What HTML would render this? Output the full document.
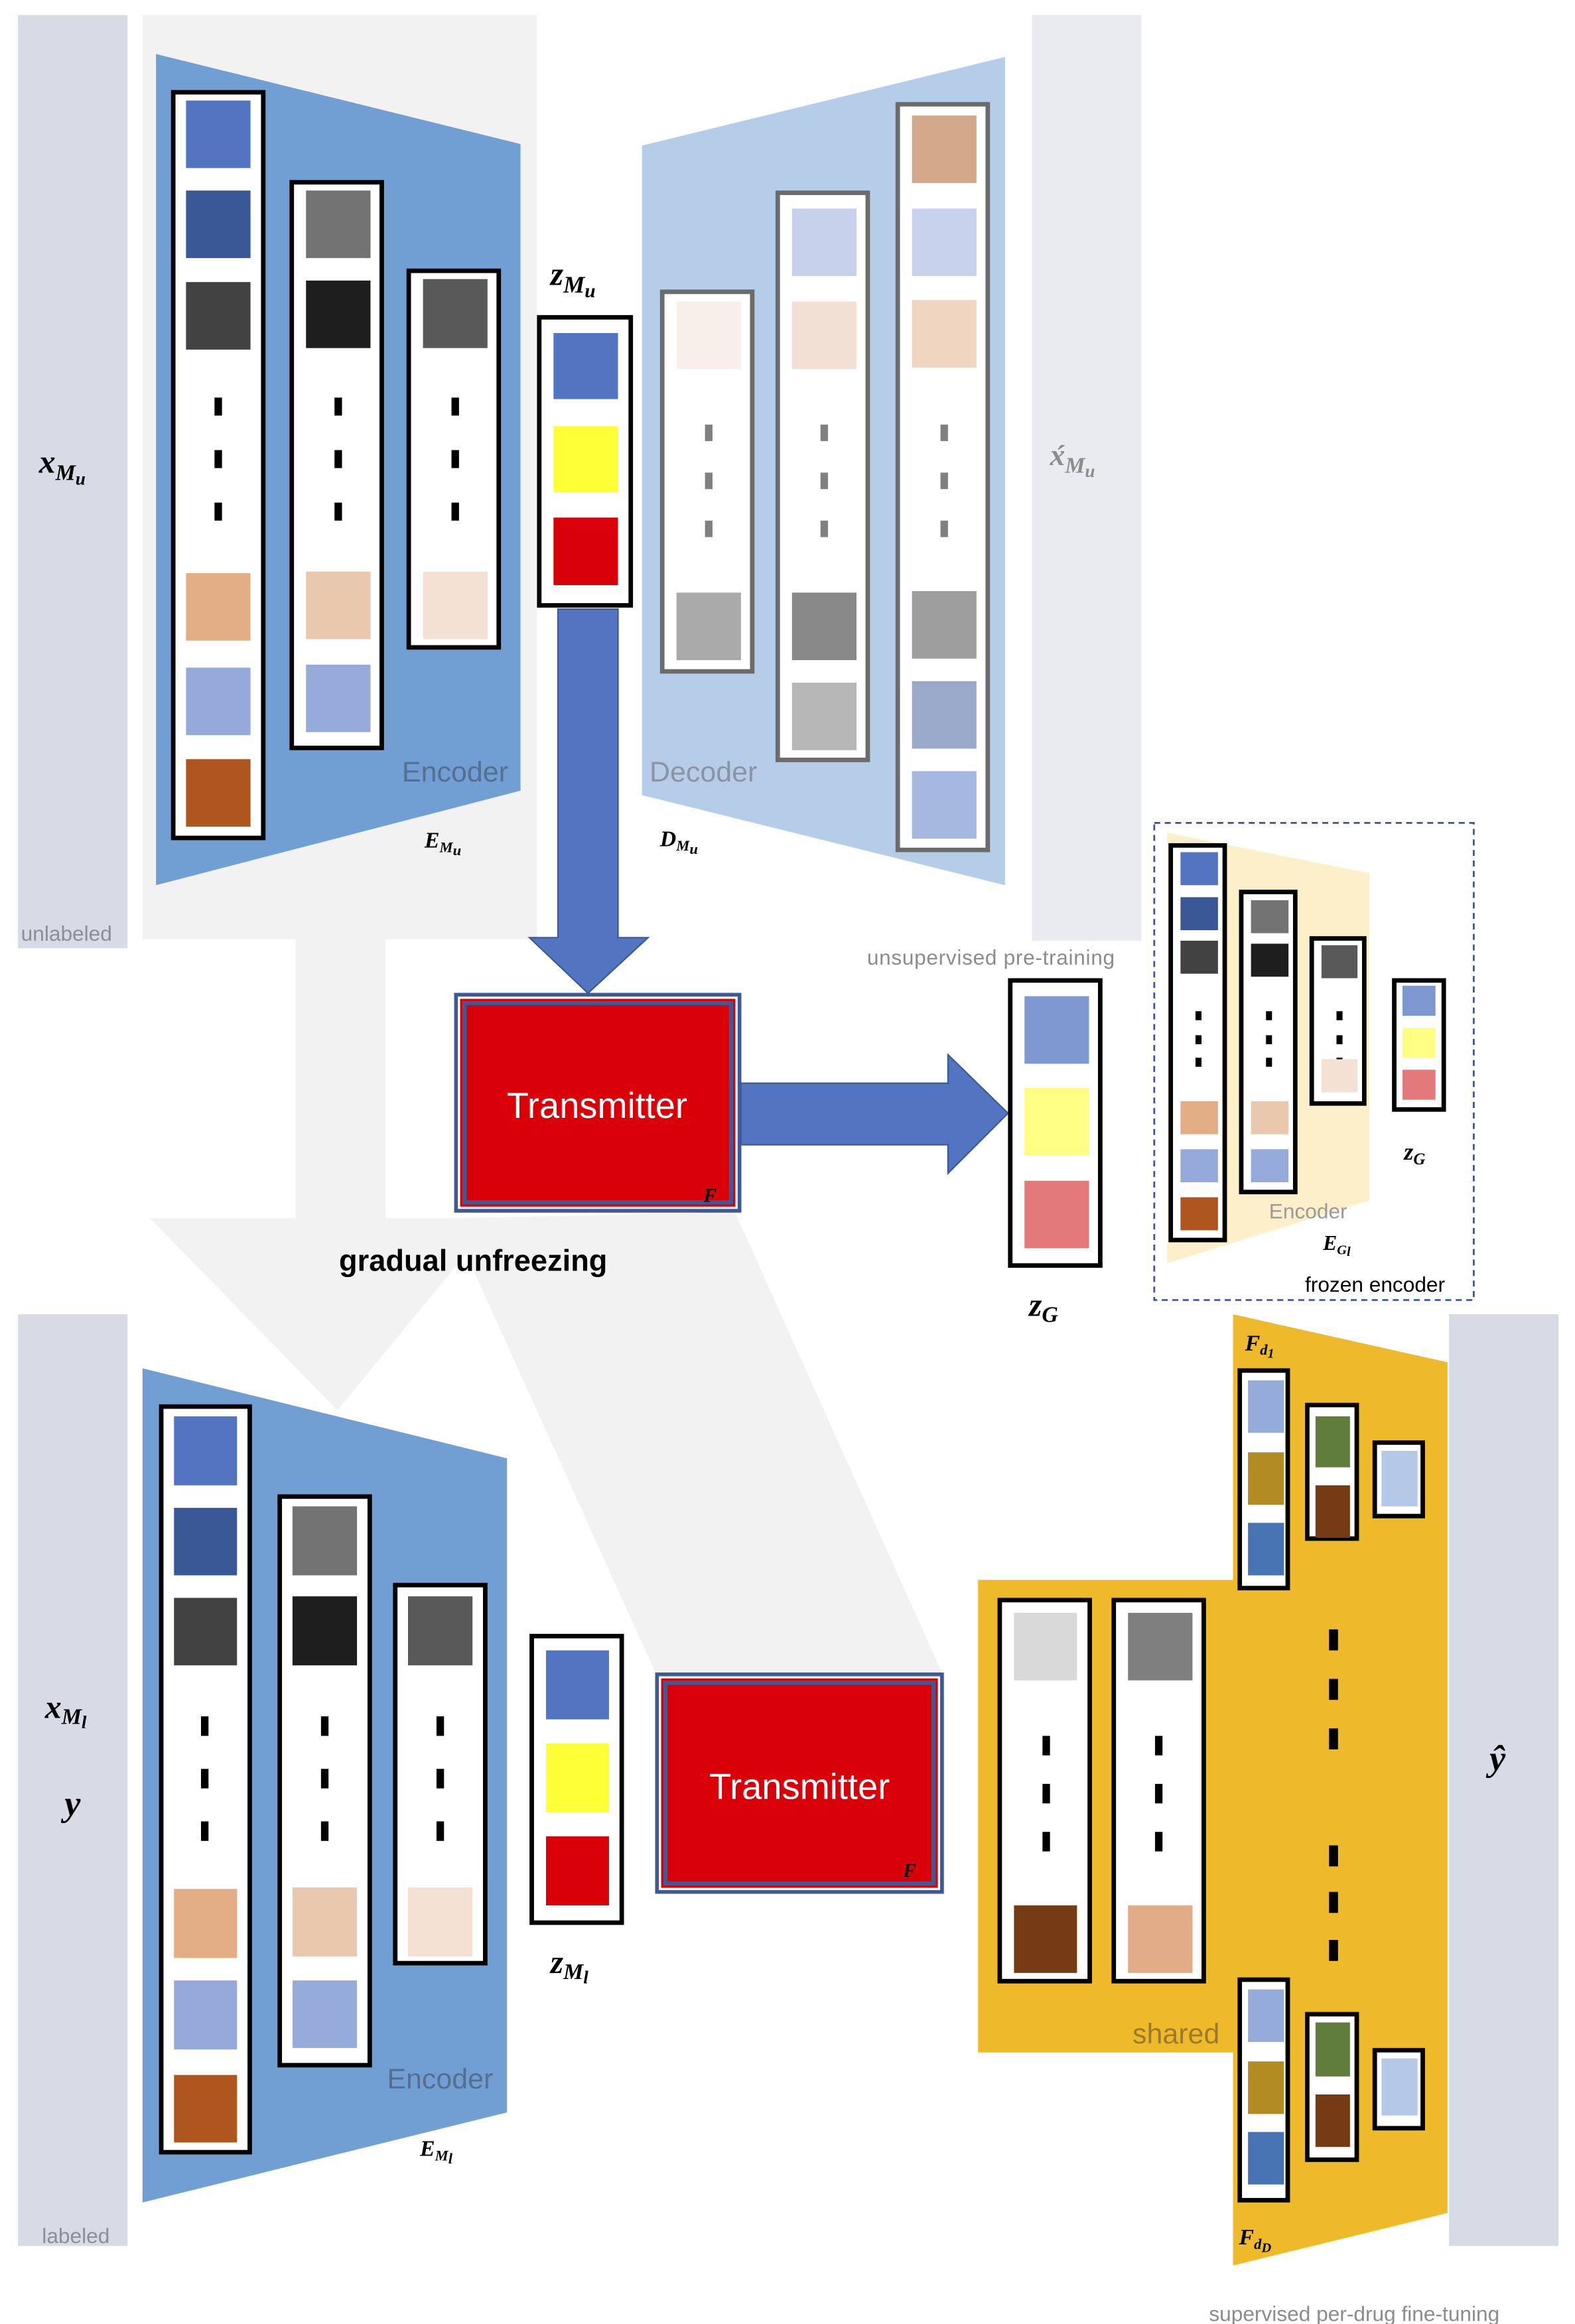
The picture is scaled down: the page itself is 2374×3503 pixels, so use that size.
<!DOCTYPE html>
<html><head><meta charset="utf-8"><style>
html,body{margin:0;padding:0;background:#fff;}
svg{display:block;}
.m{font-family:"Liberation Serif",serif;font-style:italic;font-weight:bold;}
.s{font-family:"Liberation Sans",sans-serif;}
</style></head><body>
<svg width="2374" height="3503" viewBox="0 0 1050 1549" preserveAspectRatio="none" xmlns="http://www.w3.org/2000/svg">
<rect x="12" y="10" width="73" height="622" fill="#d6dbe5"/>
<text x="14" y="627" class="s" font-size="14" fill="#8a8f98">unlabeled</text>
<text x="26" y="315" class="m" font-size="22">x<tspan font-size="15" dy="5">M</tspan><tspan font-size="12" dy="3">u</tspan></text>
<rect x="95" y="10" width="263" height="616" fill="#f2f2f2"/>
<rect x="688" y="10" width="73" height="617" fill="#e9ebf0"/>
<polygon points="197,626 257,626 257,812 330,812 225,940 100,812 197,812" fill="#f2f2f2"/>
<polygon points="300,812 490,808 628,1115 437,1115" fill="#f2f2f2"/>

<polygon points="104,36 347,96 347,527 104,590" fill="#729fd3"/>
<rect x="115.5" y="61.5" width="60" height="497" fill="#fff" stroke="#000" stroke-width="3"/>
<rect x="124" y="67" width="43" height="45" fill="#5274c1"/>
<rect x="124" y="127" width="43" height="45" fill="#3b5896"/>
<rect x="124" y="188" width="43" height="45" fill="#424242"/>
<rect x="143" y="265" width="5" height="12" fill="#000"/><rect x="143" y="300" width="5" height="12" fill="#000"/><rect x="143" y="335" width="5" height="12" fill="#000"/>
<rect x="124" y="382" width="43" height="45" fill="#e3ad86"/>
<rect x="124" y="445" width="43" height="45" fill="#95aadb"/>
<rect x="124" y="506" width="43" height="45" fill="#ae561e"/>
<rect x="194.5" y="121.5" width="60" height="377" fill="#fff" stroke="#000" stroke-width="3"/>
<rect x="204" y="127" width="43" height="45" fill="#737373"/>
<rect x="204" y="187" width="43" height="45" fill="#1e1e1e"/>
<rect x="223" y="265" width="5" height="12" fill="#000"/><rect x="223" y="300" width="5" height="12" fill="#000"/><rect x="223" y="335" width="5" height="12" fill="#000"/>
<rect x="204" y="381" width="43" height="45" fill="#eac8ad"/>
<rect x="204" y="443" width="43" height="45" fill="#97abda"/>
<rect x="272.5" y="180.5" width="60" height="251" fill="#fff" stroke="#000" stroke-width="3"/>
<rect x="282" y="186" width="43" height="46" fill="#595959"/>
<rect x="301" y="265" width="5" height="12" fill="#000"/><rect x="301" y="300" width="5" height="12" fill="#000"/><rect x="301" y="335" width="5" height="12" fill="#000"/>
<rect x="282" y="381" width="43" height="45" fill="#f4e1d4"/>
<text x="268" y="521" class="s" font-size="19" fill="#55708f">Encoder</text>
<text x="283" y="565" class="m" font-size="15">E<tspan font-size="10" dy="3">M</tspan><tspan font-size="10" dy="2">u</tspan></text>

<text x="367" y="190" class="m" font-size="22">z<tspan font-size="16" dy="5">M</tspan><tspan font-size="13" dy="3">u</tspan></text>
<rect x="359.5" y="211.5" width="61" height="192" fill="#fff" stroke="#000" stroke-width="3"/>
<rect x="369" y="222" width="43" height="44" fill="#5274c1"/>
<rect x="369" y="284" width="43" height="44" fill="#ffff38"/>
<rect x="369" y="345" width="43" height="45" fill="#d90008"/>

<polygon points="372,406 412,406 412,625 432,625 392,662 353,625 372,625" fill="#5274c1" stroke="#3e5a96" stroke-width="1"/>

<polygon points="428,97 670,38 670,590 428,530" fill="#b5cde9"/>
<rect x="441.5" y="194.5" width="60" height="253" fill="#fff" stroke="#6b6b6b" stroke-width="3"/>
<rect x="451" y="201" width="43" height="45" fill="#f8efea"/>
<rect x="470" y="283" width="5" height="11" fill="#808080"/><rect x="470" y="315" width="5" height="11" fill="#808080"/><rect x="470" y="347" width="5" height="11" fill="#808080"/>
<rect x="451" y="395" width="43" height="45" fill="#aaaaaa"/>
<rect x="518.5" y="128.5" width="60" height="378" fill="#fff" stroke="#6b6b6b" stroke-width="3"/>
<rect x="528" y="139" width="43" height="45" fill="#c7d1ec"/>
<rect x="528" y="201" width="43" height="45" fill="#f3e0d4"/>
<rect x="547" y="283" width="5" height="11" fill="#808080"/><rect x="547" y="315" width="5" height="11" fill="#808080"/><rect x="547" y="347" width="5" height="11" fill="#808080"/>
<rect x="528" y="395" width="43" height="45" fill="#898989"/>
<rect x="528" y="455" width="43" height="45" fill="#b7b7b7"/>
<rect x="598.5" y="69.5" width="60" height="497" fill="#fff" stroke="#6b6b6b" stroke-width="3"/>
<rect x="608" y="77" width="43" height="45" fill="#d4a88a"/>
<rect x="608" y="139" width="43" height="45" fill="#c8d2ec"/>
<rect x="608" y="200" width="43" height="45" fill="#f0d5c1"/>
<rect x="627" y="283" width="5" height="11" fill="#808080"/><rect x="627" y="315" width="5" height="11" fill="#808080"/><rect x="627" y="347" width="5" height="11" fill="#808080"/>
<rect x="608" y="394" width="43" height="45" fill="#9e9e9e"/>
<rect x="608" y="454" width="43" height="45" fill="#9aa8c9"/>
<rect x="608" y="514" width="43" height="45" fill="#a4b8e0"/>
<text x="433" y="521" class="s" font-size="19" fill="#8a94a3">Decoder</text>
<text x="440" y="564" class="m" font-size="15">D<tspan font-size="10" dy="3">M</tspan><tspan font-size="10" dy="2">u</tspan></text>
<text x="700" y="310" class="m" font-size="20" fill="#8c8c8c">x́<tspan font-size="15" dy="5">M</tspan><tspan font-size="12" dy="3">u</tspan></text>
<text x="578" y="643" class="s" font-size="14" fill="#8c8c8c" letter-spacing="0.3">unsupervised pre-training</text>

<rect x="304" y="663" width="189" height="144" fill="#fff" stroke="#3e5a96" stroke-width="2.5"/>
<rect x="307.5" y="666.5" width="182" height="137" fill="#3e5a96" stroke="#d90008" stroke-width="1.5"/>
<rect x="311" y="670" width="175" height="130" fill="#d9000a"/>
<text x="398" y="745" class="s" font-size="24" fill="#fff" text-anchor="middle">Transmitter</text>
<text x="469" y="801" class="m" font-size="13">F</text>
<text x="226" y="847" class="s" font-size="20" font-weight="bold">gradual unfreezing</text>

<polygon points="494,722 632,722 632,703 672,742 632,782 632,763 494,763" fill="#5274c1" stroke="#3e5a96" stroke-width="1"/>

<rect x="673.5" y="653.5" width="60" height="190" fill="#fff" stroke="#000" stroke-width="3"/>
<rect x="683" y="664" width="43" height="45" fill="#7f97cf"/>
<rect x="683" y="725" width="43" height="45" fill="#fefe84"/>
<rect x="683" y="787" width="43" height="45" fill="#e27a7c"/>
<text x="686" y="877" class="m" font-size="22">z<tspan font-size="15" dy="4">G</tspan></text>

<rect x="769.5" y="548.5" width="213" height="318" fill="none" stroke="#3a5590" stroke-width="1.2" stroke-dasharray="4,3"/>
<polygon points="778,555 913,582 913,800 778,842" fill="#fdefc9"/>
<rect x="780.5" y="563.5" width="36" height="263" fill="#fff" stroke="#000" stroke-width="3"/>
<rect x="787" y="568" width="25" height="22" fill="#5274c1"/>
<rect x="787" y="598" width="25" height="22" fill="#3b5896"/>
<rect x="787" y="627" width="25" height="22" fill="#424242"/>
<rect x="797" y="674" width="4" height="6" fill="#000"/><rect x="797" y="690" width="4" height="6" fill="#000"/><rect x="797" y="705" width="4" height="6" fill="#000"/>
<rect x="787" y="734" width="25" height="22" fill="#e3ad86"/>
<rect x="787" y="766" width="25" height="22" fill="#95aadb"/>
<rect x="787" y="798" width="25" height="22" fill="#ae561e"/>
<rect x="827.5" y="594.5" width="36" height="200" fill="#fff" stroke="#000" stroke-width="3"/>
<rect x="834" y="600" width="25" height="22" fill="#737373"/>
<rect x="834" y="629" width="25" height="22" fill="#1e1e1e"/>
<rect x="844" y="674" width="4" height="6" fill="#000"/><rect x="844" y="690" width="4" height="6" fill="#000"/><rect x="844" y="705" width="4" height="6" fill="#000"/>
<rect x="834" y="734" width="25" height="22" fill="#eac8ad"/>
<rect x="834" y="766" width="25" height="22" fill="#97abda"/>
<rect x="874.5" y="625.5" width="35" height="110" fill="#fff" stroke="#000" stroke-width="3"/>
<rect x="881" y="630" width="24" height="22" fill="#595959"/>
<rect x="891" y="674" width="4" height="6" fill="#000"/><rect x="891" y="690" width="4" height="6" fill="#000"/><rect x="891" y="705" width="4" height="6" fill="#000"/>
<rect x="881" y="706" width="24" height="22" fill="#f4e1d4"/>
<rect x="929.5" y="653.5" width="33" height="86" fill="#fff" stroke="#000" stroke-width="3"/>
<rect x="935" y="657" width="22" height="20" fill="#7f97cf"/>
<rect x="935" y="685" width="22" height="20" fill="#fefe84"/>
<rect x="935" y="713" width="22" height="20" fill="#e27a7c"/>
<text x="846" y="812" class="s" font-size="14" fill="#9a9a9a">Encoder</text>
<text x="882" y="833" class="m" font-size="14">E<tspan font-size="9" dy="3">G</tspan><tspan font-size="9" dy="1">l</tspan></text>
<text x="936" y="773" class="m" font-size="16">z<tspan font-size="11" dy="3">G</tspan></text>
<text x="870" y="861" class="s" font-size="14">frozen encoder</text>

<rect x="12" y="876" width="73" height="621" fill="#d6dbe5"/>
<text x="28" y="1495" class="s" font-size="14" fill="#8a8f98">labeled</text>
<text x="30" y="1145" class="m" font-size="22">x<tspan font-size="15" dy="4">M</tspan><tspan font-size="12" dy="3">l</tspan></text>
<text x="43" y="1210" class="m" font-size="24">y</text>

<polygon points="95,912 338,972 338,1408 95,1468" fill="#729fd3"/>
<rect x="107.5" y="937.5" width="59" height="497" fill="#fff" stroke="#000" stroke-width="3"/>
<rect x="116" y="944" width="42" height="46" fill="#5274c1"/>
<rect x="116" y="1005" width="42" height="45" fill="#3b5896"/>
<rect x="116" y="1065" width="42" height="45" fill="#424242"/>
<rect x="134" y="1144" width="5" height="13" fill="#000"/><rect x="134" y="1179" width="5" height="13" fill="#000"/><rect x="134" y="1214" width="5" height="13" fill="#000"/>
<rect x="116" y="1259" width="42" height="46" fill="#e3ad86"/>
<rect x="116" y="1320" width="42" height="46" fill="#95aadb"/>
<rect x="116" y="1383" width="42" height="45" fill="#ae561e"/>
<rect x="186.5" y="997.5" width="60" height="379" fill="#fff" stroke="#000" stroke-width="3"/>
<rect x="195" y="1004" width="43" height="46" fill="#737373"/>
<rect x="195" y="1064" width="43" height="46" fill="#1e1e1e"/>
<rect x="214" y="1144" width="5" height="13" fill="#000"/><rect x="214" y="1179" width="5" height="13" fill="#000"/><rect x="214" y="1214" width="5" height="13" fill="#000"/>
<rect x="195" y="1258" width="43" height="46" fill="#eac8ad"/>
<rect x="195" y="1320" width="43" height="45" fill="#97abda"/>
<rect x="263.5" y="1056.5" width="60" height="252" fill="#fff" stroke="#000" stroke-width="3"/>
<rect x="272" y="1064" width="43" height="46" fill="#595959"/>
<rect x="291" y="1144" width="5" height="13" fill="#000"/><rect x="291" y="1179" width="5" height="13" fill="#000"/><rect x="291" y="1214" width="5" height="13" fill="#000"/>
<rect x="272" y="1258" width="43" height="46" fill="#f4e1d4"/>
<text x="258" y="1392" class="s" font-size="19" fill="#55708f">Encoder</text>
<text x="280" y="1437" class="m" font-size="15">E<tspan font-size="10" dy="3">M</tspan><tspan font-size="10" dy="2">l</tspan></text>

<rect x="354.5" y="1090.5" width="60" height="191" fill="#fff" stroke="#000" stroke-width="3"/>
<rect x="364" y="1100" width="42" height="46" fill="#5274c1"/>
<rect x="364" y="1162" width="42" height="46" fill="#ffff38"/>
<rect x="364" y="1224" width="42" height="46" fill="#d90008"/>
<text x="367" y="1315" class="m" font-size="22">z<tspan font-size="15" dy="4">M</tspan><tspan font-size="12" dy="3">l</tspan></text>

<rect x="438" y="1116" width="190" height="145" fill="#fff" stroke="#3e5a96" stroke-width="2.5"/>
<rect x="441.5" y="1119.5" width="183" height="138" fill="#3e5a96" stroke="#d90008" stroke-width="1.5"/>
<rect x="445" y="1123" width="176" height="131" fill="#d9000a"/>
<text x="533" y="1199" class="s" font-size="24" fill="#fff" text-anchor="middle">Transmitter</text>
<text x="602" y="1251" class="m" font-size="13">F</text>

<polygon points="822,876 965,908 965,1475 822,1510 822,1368 652,1368 652,1053 822,1053" fill="#eeba2b"/>
<rect x="666.5" y="1066.5" width="60" height="254" fill="#fff" stroke="#000" stroke-width="3"/>
<rect x="676" y="1075" width="42" height="45" fill="#d9d9d9"/>
<rect x="695" y="1157" width="5" height="13" fill="#000"/><rect x="695" y="1189" width="5" height="13" fill="#000"/><rect x="695" y="1221" width="5" height="13" fill="#000"/>
<rect x="676" y="1270" width="42" height="45" fill="#743b14"/>
<rect x="742.5" y="1066.5" width="60" height="254" fill="#fff" stroke="#000" stroke-width="3"/>
<rect x="752" y="1075" width="43" height="45" fill="#7f7f7f"/>
<rect x="770" y="1157" width="5" height="13" fill="#000"/><rect x="770" y="1189" width="5" height="13" fill="#000"/><rect x="770" y="1221" width="5" height="13" fill="#000"/>
<rect x="752" y="1270" width="43" height="45" fill="#e2ac86"/>
<text x="755" y="1362" class="s" font-size="19" fill="#9c7a2a">shared</text>

<rect x="826.5" y="913.5" width="32" height="145" fill="#fff" stroke="#000" stroke-width="3"/>
<rect x="832" y="920" width="24" height="35" fill="#95acdb"/>
<rect x="832" y="968" width="24" height="35" fill="#b28b22"/>
<rect x="832" y="1015" width="24" height="35" fill="#4874b4"/>
<rect x="871.5" y="936.5" width="33" height="89" fill="#fff" stroke="#000" stroke-width="3"/>
<rect x="877" y="944" width="23" height="34" fill="#617d3c"/>
<rect x="877" y="990" width="23" height="35" fill="#743b14"/>
<rect x="916.5" y="961.5" width="32" height="49" fill="#fff" stroke="#000" stroke-width="3"/>
<rect x="921" y="967" width="24" height="37" fill="#b4c8e8"/>
<rect x="886" y="1086" width="6" height="14" fill="#000"/><rect x="886" y="1119" width="6" height="14" fill="#000"/><rect x="886" y="1152" width="6" height="14" fill="#000"/>
<rect x="886" y="1230" width="6" height="14" fill="#000"/><rect x="886" y="1261" width="6" height="14" fill="#000"/><rect x="886" y="1293" width="6" height="14" fill="#000"/>
<rect x="826.5" y="1319.5" width="32" height="147" fill="#fff" stroke="#000" stroke-width="3"/>
<rect x="832" y="1326" width="24" height="35" fill="#95acdb"/>
<rect x="832" y="1374" width="24" height="35" fill="#b28b22"/>
<rect x="832" y="1421" width="24" height="35" fill="#4874b4"/>
<rect x="871.5" y="1342.5" width="33" height="97" fill="#fff" stroke="#000" stroke-width="3"/>
<rect x="877" y="1348" width="23" height="36" fill="#617d3c"/>
<rect x="877" y="1396" width="23" height="35" fill="#743b14"/>
<rect x="916.5" y="1366.5" width="32" height="52" fill="#fff" stroke="#000" stroke-width="3"/>
<rect x="921" y="1372" width="24" height="38" fill="#b4c8e8"/>
<text x="830" y="900" class="m" font-size="15">F<tspan font-size="10" dy="3">d</tspan><tspan font-size="9" dy="2">1</tspan></text>
<text x="826" y="1496" class="m" font-size="15">F<tspan font-size="10" dy="3">d</tspan><tspan font-size="9" dy="2">D</tspan></text>

<rect x="966" y="876" width="73" height="621" fill="#d6dbe5"/>
<text x="993" y="1180" class="m" font-size="24">ŷ</text>
<text x="806" y="1547" class="s" font-size="14" fill="#8c8c8c">supervised per-drug  fine-tuning</text>
</svg>
</body></html>
